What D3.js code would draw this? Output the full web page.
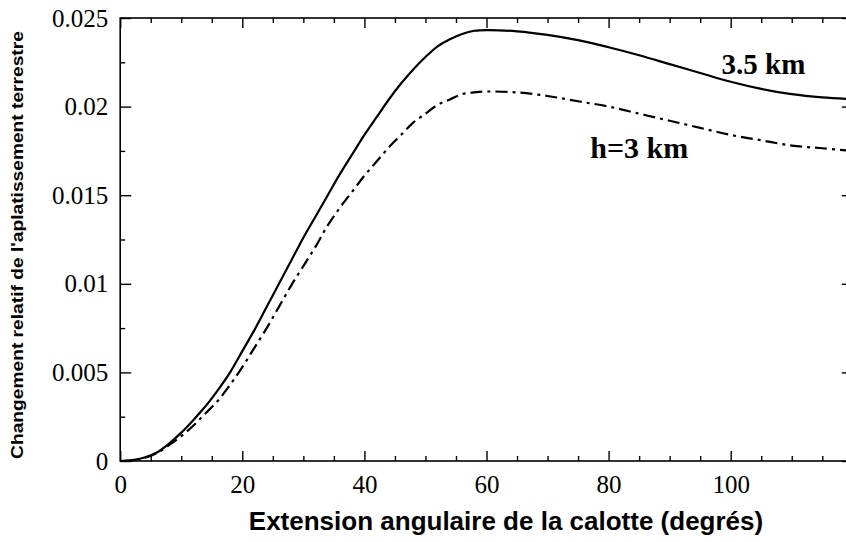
<!DOCTYPE html>
<html>
<head>
<meta charset="utf-8">
<script src="https://cdn.jsdelivr.net/npm/d3@7"></script>
<style>
  html, body { margin: 0; padding: 0; background: #fff; }
  svg { display: block; }
</style>
</head>
<body>
<svg id="chart" width="846" height="542"></svg>
<script>
// ---- data ----
const xAngles = [0, 2, 4, 6, 8, 10, 12, 14, 16, 18, 20, 22, 24, 26, 28, 30, 32, 34, 36, 38, 40, 42, 44, 46, 48, 50, 52, 54, 56, 58, 60, 65, 70, 75, 80, 85, 90, 95, 100, 105, 110, 115, 120];
const h35 = [0, 0.00005, 0.0002, 0.00048, 0.00098, 0.0016, 0.00232, 0.0031, 0.0040, 0.0050, 0.0062, 0.0074, 0.0087, 0.0100, 0.0113, 0.0126, 0.0138, 0.0150, 0.0162, 0.0173, 0.0184, 0.0194, 0.0204, 0.0213, 0.0221, 0.0228, 0.0234, 0.0238, 0.0241, 0.02428, 0.02432, 0.02425, 0.02405, 0.02375, 0.02335, 0.0229, 0.0224, 0.0219, 0.0214, 0.0210, 0.0207, 0.02052, 0.02042];
const h3 = [0, 0.00004, 0.00018, 0.00044, 0.0009, 0.0014, 0.0020, 0.0027, 0.0034, 0.0043, 0.0053, 0.0064, 0.0075, 0.0087, 0.0099, 0.0110, 0.0121, 0.0133, 0.0143, 0.0152, 0.0161, 0.0169, 0.0177, 0.0184, 0.0191, 0.0196, 0.0201, 0.0204, 0.0207, 0.0208, 0.02085, 0.0208, 0.0206, 0.0203, 0.0200, 0.0196, 0.0192, 0.0188, 0.0184, 0.0181, 0.0178, 0.01765, 0.0175];
const xMajorTicks = [0, 20, 40, 60, 80, 100];
const xMinorTicks = [5, 10, 15, 25, 30, 35, 45, 50, 55, 65, 70, 75, 85, 90, 95, 105, 110, 115];
const yMajorTicks = [0, 0.005, 0.01, 0.015, 0.02, 0.025];
const yMinorTicks = [0.0025, 0.0075, 0.0125, 0.0175, 0.0225];
const yTickLabels = ["0", "0.005", "0.01", "0.015", "0.02", "0.025"];
const seriesLabels = ["3.5 km", "h=3 km"];
const xTitle = "Extension angulaire de la calotte (degrés)";
const yTitle = "Changement relatif de l'aplatissement terrestre";

// ---- layout ----
const L = 120.2, R = 852.8, T = 18, B = 461;
const svg = d3.select("#chart");
const x = d3.scaleLinear().domain([0, 120]).range([L, R]);
const y = d3.scaleLinear().domain([0, 0.025]).range([B, T]);

const tickFont = "'Liberation Serif', 'Times New Roman', serif";
const sansFont = "'Liberation Sans', Arial, sans-serif";

// frame
svg.append("rect").attr("x", L).attr("y", T).attr("width", R - L).attr("height", B - T)
  .attr("fill", "none").attr("stroke", "#000").attr("stroke-width", 1.6);

function styleAxis(g) {
  g.select(".domain").remove();
  g.selectAll("line").attr("stroke", "#000").attr("stroke-width", 1.4);
  g.selectAll("text").attr("font-family", tickFont).attr("font-size", 25).attr("fill", "#000");
}

// bottom axis
svg.append("g").attr("transform", `translate(0,${B})`)
  .call(d3.axisBottom(x).tickValues(xMajorTicks).tickSizeInner(-10).tickSizeOuter(0).tickPadding(14).tickFormat(d3.format("d")))
  .call(styleAxis);
svg.append("g").attr("transform", `translate(0,${B})`)
  .call(d3.axisBottom(x).tickValues(xMinorTicks).tickSizeInner(-5).tickSizeOuter(0).tickFormat(""))
  .call(styleAxis);
// top axis
svg.append("g").attr("transform", `translate(0,${T})`)
  .call(d3.axisTop(x).tickValues(xMajorTicks).tickSizeInner(-10).tickSizeOuter(0).tickFormat(""))
  .call(styleAxis);
svg.append("g").attr("transform", `translate(0,${T})`)
  .call(d3.axisTop(x).tickValues(xMinorTicks).tickSizeInner(-5).tickSizeOuter(0).tickFormat(""))
  .call(styleAxis);
// left axis
svg.append("g").attr("transform", `translate(${L},0)`)
  .call(d3.axisLeft(y).tickValues(yMajorTicks).tickSizeInner(-11).tickSizeOuter(0).tickPadding(12)
    .tickFormat((d, i) => yTickLabels[i]))
  .call(styleAxis);
svg.append("g").attr("transform", `translate(${L},0)`)
  .call(d3.axisLeft(y).tickValues(yMinorTicks).tickSizeInner(-5).tickSizeOuter(0).tickFormat(""))
  .call(styleAxis);
// right axis (mostly off-canvas)
svg.append("g").attr("transform", `translate(${R},0)`)
  .call(d3.axisRight(y).tickValues(yMajorTicks).tickSizeInner(-11).tickSizeOuter(0).tickFormat(""))
  .call(styleAxis);
svg.append("g").attr("transform", `translate(${R},0)`)
  .call(d3.axisRight(y).tickValues(yMinorTicks).tickSizeInner(-5).tickSizeOuter(0).tickFormat(""))
  .call(styleAxis);

// curves
const line = d3.line().x((d, i) => x(xAngles[i])).y(d => y(d)).curve(d3.curveCatmullRom.alpha(0.5));
svg.append("path").datum(h35).attr("d", line)
  .attr("fill", "none").attr("stroke", "#000").attr("stroke-width", 2.2);
svg.append("path").datum(h3).attr("d", line)
  .attr("fill", "none").attr("stroke", "#000").attr("stroke-width", 2.2)
  .attr("stroke-dasharray", "12,5,3,5");

// series labels
svg.append("text").attr("x", x(98.5)).attr("y", 74)
  .attr("font-family", tickFont).attr("font-weight", "bold").attr("font-size", 29)
  .text(seriesLabels[0]);
svg.append("text").attr("x", x(77)).attr("y", 158)
  .attr("font-family", tickFont).attr("font-weight", "bold").attr("font-size", 30)
  .text(seriesLabels[1]);

// axis titles
svg.append("text").attr("x", 506).attr("y", 530).attr("text-anchor", "middle")
  .attr("font-family", sansFont).attr("font-weight", "bold").attr("font-size", 26)
  .text(xTitle);
svg.append("text").attr("transform", "translate(22.5,245) rotate(-90) scale(1.2,1)").attr("text-anchor", "middle")
  .attr("font-family", sansFont).attr("font-weight", "bold").attr("font-size", 16)
  .text(yTitle);
</script>
</body>
</html>
